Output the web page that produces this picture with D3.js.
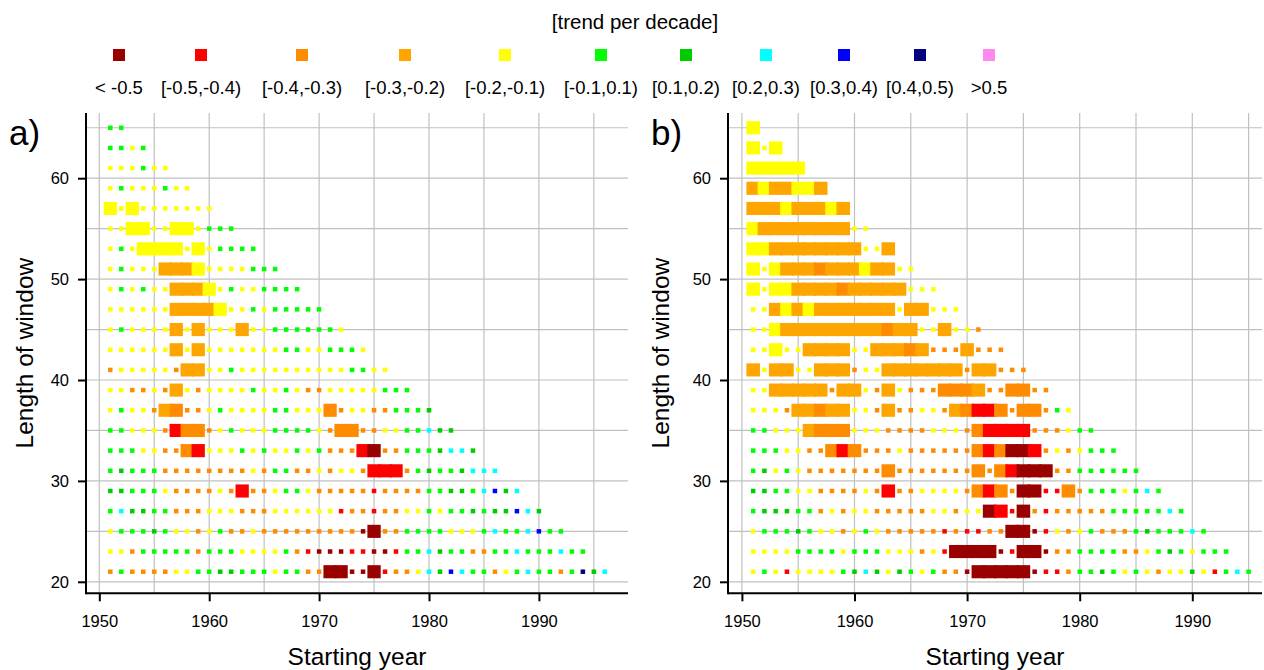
<!DOCTYPE html>
<html>
<head>
<meta charset="utf-8">
<script src="https://cdn.jsdelivr.net/npm/d3@7"></script>
<style>
  body { margin: 0; background: #fff; }
  svg { display: block; }
  text { font-family: "Liberation Sans", Arial, sans-serif; fill: #000; }
</style>
</head>
<body>
<svg id="chart" width="1264" height="670"></svg>
<script>
// Trend classes (trend per decade), from most negative to most positive
const classLabels = ["< -0.5", "[-0.5,-0.4)", "[-0.4,-0.3)", "[-0.3,-0.2)", "[-0.2,-0.1)",
  "[-0.1,0.1)", "[0.1,0.2)", "[0.2,0.3)", "[0.3,0.4)", "[0.4,0.5)", ">0.5"];
const classColors = ["#990000", "#ff0000", "#ff8c00", "#ffa500", "#ffff00",
  "#00ff00", "#00cd00", "#00ffff", "#0000ff", "#000080", "#ff88ee"];

// Window lengths in years, one row each
const windowLengths = [65, 63, 61, 59, 57, 55, 53, 51, 49, 47, 45, 43, 41, 39, 37, 35, 33, 31, 29, 27, 25, 23, 21];
const firstStartYear = 1951;

const xTicks = [1950, 1960, 1970, 1980, 1990];
const yTicks = [20, 30, 40, 50, 60];
const xGrid = [1950, 1955, 1960, 1965, 1970, 1975, 1980, 1985, 1990, 1995];
const yGrid = [20, 25, 30, 35, 40, 45, 50, 55, 60, 65];

// One string per window length (same order as windowLengths).
// Character i gives the trend class of the window starting in firstStartYear + i:
// a = "< -0.5", b = "[-0.5,-0.4)", ... k = ">0.5". Upper case = significant trend.
const seriesA = [
  "ff",
  "ffef",
  "eeefee",
  "efeeefee",
  "EeEeeeeeee",
  "eeEEeeEEefff",
  "efeEEEEeEeffff",
  "efeeeDDDEeeeefff",
  "efefeeDDDEefeeffff",
  "eeeeeeDDDDEeefefffff",
  "efeeeeDeDeeeDeeffffffe",
  "eeeeeeDeDeeeeeeeffeefffe",
  "ceeeeecDDeefeeeeeeeeeeffee",
  "eeccecDeceeeefeefecceeeeefff",
  "efeecDCccefeeeeffeeeCceeccfffg",
  "ffeeecBCCcefeeeffffecCCcceeffhgg",
  "fffeeccCBeeefefeefefcccBAccfffghhg",
  "fgfffccccccccecffcceceecBBBcfgffghhh",
  "ggfffeccccecBcceffecccccbccccffggfhigh",
  "fhggffccceeeccceeeeeebccbcceefeffgfggihg",
  "efffgfeecefccecccccccccaAccffffeeefhffhiff",
  "eecfffffcfffeeeefcbaaabbaabffhgffccffhfffhff",
  "cfcccceeffggfffeffccAAaaAbccehgihffcefhffcfjgh"
];

const seriesB = [
  "E",
  "EeE",
  "EEEEE",
  "DEDDEED",
  "DDDEDDDED",
  "EDDDDDDDDee",
  "EEDDDDDDDDeeD",
  "EeEDDDCDDDEDDee",
  "EeEEDDDDCDDDDDeee",
  "eeDEDEDDDDDDDeDDeee",
  "eeEDDDDDDDDDCDDeeDeec",
  "eeEeeDDDDeeDDDCDcccDccc",
  "DeDDeeDDDceeDDDDDDDcDDccc",
  "eeDDDDDcDDecDecccCCCDccCCcc",
  "eeecDDCDDeecDcceecDCBBCcCCcfe",
  "ffeeeDCCCeeecccceeecCBBBBccceff",
  "fffeeccCBCccceccccccCBCAABcecefff",
  "fgefecccccccCcccccccCcCBAAAccffffff",
  "ggffeeccccecBcceeeecCBCcAAbbCcfffefhf",
  "fgggffceceeccccceeceeABbAcbcccccfffffhf",
  "efffgfeecefecccccbcbbccAAabecefcccfgfffhf",
  "eeeeffffefffeeecebAAAAabAAaccffffccefgfefff",
  "efebeeeefghgegfefccaAAAAAabbcffgfefeceegebfhf"
];

// Flatten a panel's strings into cell records
function cellsOf(series) {
  const out = [];
  series.forEach((row, r) => {
    [...row].forEach((ch, i) => {
      const lower = ch.toLowerCase();
      out.push({
        length: windowLengths[r],
        start: firstStartYear + i,
        cls: lower.charCodeAt(0) - 97,
        sig: ch !== lower
      });
    });
  });
  return out;
}

const svg = d3.select("#chart");

// Shared vertical scale
const y = d3.scaleLinear().domain([20, 60]).range([581.8, 178.2]);
const plotTop = 113, plotBottom = 593.3;

const panels = [
  { tag: "a)", series: seriesA, left: 86, right: 628, x: d3.scaleLinear().domain([1950, 1990]).range([99.3, 538.9]),
    tagX: 9, titleX: 33 },
  { tag: "b)", series: seriesB, left: 728, right: 1262, x: d3.scaleLinear().domain([1950, 1990]).range([741.9, 1192.3]),
    tagX: 651, titleX: 669 }
];

panels.forEach(p => {
  const g = svg.append("g");
  const x = p.x;

  // grid
  g.append("g").selectAll("line").data(xGrid).join("line")
    .attr("x1", d => x(d)).attr("x2", d => x(d))
    .attr("y1", plotTop).attr("y2", plotBottom)
    .attr("stroke", "#c0c0c0").attr("stroke-width", 1.2);
  g.append("g").selectAll("line").data(yGrid).join("line")
    .attr("x1", p.left).attr("x2", p.right)
    .attr("y1", d => y(d)).attr("y2", d => y(d))
    .attr("stroke", "#c0c0c0").attr("stroke-width", 1.2);

  // cells: non-significant as small squares, significant as large blocks
  const cells = cellsOf(p.series);
  const step = x(1951) - x(1950);
  const small = 4.5;
  const bigW = step + 2.3;
  const bigH = y(20) - y(21.3);

  g.append("g").selectAll("rect").data(cells.filter(d => !d.sig)).join("rect")
    .attr("x", d => x(d.start) - small / 2)
    .attr("y", d => y(d.length) - small / 2)
    .attr("width", small).attr("height", small)
    .attr("fill", d => classColors[d.cls]);

  g.append("g").selectAll("rect").data(cells.filter(d => d.sig)).join("rect")
    .attr("x", d => x(d.start) - bigW / 2)
    .attr("y", d => y(d.length) - bigH / 2)
    .attr("width", bigW).attr("height", bigH)
    .attr("fill", d => classColors[d.cls]);

  // axes
  const xAxis = g.append("g").attr("transform", `translate(0,${plotBottom})`)
    .call(d3.axisBottom(x).tickValues(xTicks).tickFormat(d3.format("d")).tickSize(8).tickPadding(13.5));
  xAxis.select(".domain").remove();
  xAxis.append("line").attr("x1", p.left).attr("x2", p.right).attr("y1", 0).attr("y2", 0)
    .attr("stroke", "#000").attr("stroke-width", 2);

  const yAxis = g.append("g").attr("transform", `translate(${p.left},0)`)
    .call(d3.axisLeft(y).tickValues(yTicks).tickSize(8).tickPadding(9));
  yAxis.select(".domain").remove();
  yAxis.append("line").attr("x1", 0).attr("x2", 0).attr("y1", plotTop).attr("y2", plotBottom + 1)
    .attr("stroke", "#000").attr("stroke-width", 2);

  [xAxis, yAxis].forEach(a => {
    a.selectAll(".tick line").attr("stroke", "#000").attr("stroke-width", 2);
    a.selectAll(".tick text").attr("font-size", 16.5).attr("fill", "#000")
      .style("font-family", '"Liberation Sans", Arial, sans-serif');
  });

  // titles
  g.append("text").attr("x", (p.left + p.right) / 2).attr("y", 665)
    .attr("text-anchor", "middle").attr("font-size", 24.5).text("Starting year");
  g.append("text").attr("transform", `translate(${p.titleX},${(plotTop + plotBottom) / 2}) rotate(-90)`)
    .attr("text-anchor", "middle").attr("font-size", 24.5).text("Length of window");
  g.append("text").attr("x", p.tagX).attr("y", 145).attr("font-size", 35).text(p.tag);
});

// legend
const legendX = [119, 201, 302, 405, 505, 601, 686, 766, 844, 920, 989];
const legend = svg.append("g");
legend.append("text").attr("x", 635).attr("y", 29).attr("text-anchor", "middle")
  .attr("font-size", 20.5).text("[trend per decade]");
legend.selectAll("rect").data(classColors).join("rect")
  .attr("x", (d, i) => legendX[i] - 6).attr("y", 49)
  .attr("width", 12).attr("height", 12).attr("fill", d => d);
legend.selectAll("text.lab").data(classLabels).join("text").attr("class", "lab")
  .attr("x", (d, i) => legendX[i]).attr("y", 94).attr("text-anchor", "middle")
  .attr("font-size", 18.5).text(d => d);
</script>
</body>
</html>
